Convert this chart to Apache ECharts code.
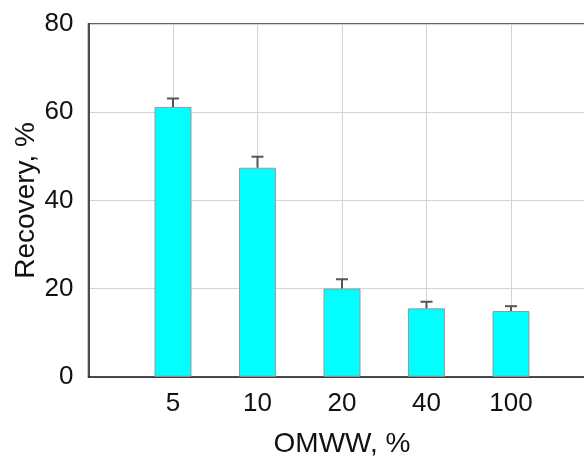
<!DOCTYPE html>
<html>
<head>
<meta charset="utf-8">
<script src="https://cdn.jsdelivr.net/npm/echarts@6/dist/echarts.min.js"></script>
<style>
  html, body { margin: 0; padding: 0; background: #fff; }
  #chart { width: 584px; height: 456px; }
</style>
</head>
<body>
<div id="chart"></div>
<script>
// OMWW dilution levels (x categories)
const categories = ['5', '10', '20', '40', '100'];
// Mean recovery (%) and upper error bound (%)
const recovery = [61.2, 47.4, 20.0, 15.5, 14.9];
const errorTop = [63.1, 49.9, 22.1, 17.0, 16.0];
// Y tick values
const yTicks = [0, 20, 40, 60, 80];

const FONT = '"Liberation Sans", Arial, sans-serif';

// categories sit at x = 1..n on a numeric axis that starts at 0
const barData = recovery.map((v, i) => [i + 1, v]);
const errData = recovery.map((v, i) => [i + 1, v, errorTop[i]]);

const chart = echarts.init(document.getElementById('chart'), null, { renderer: 'canvas' });
chart.setOption({
  animation: false,
  backgroundColor: '#ffffff',
  grid: {
    left: 88.5, top: 24, bottom: 79.3, right: -11.5,
    outerBoundsMode: 'none', containLabel: false,
    show: true, borderColor: '#333', borderWidth: 1.5, backgroundColor: 'transparent'
  },
  xAxis: {
    type: 'value', min: 0, max: categories.length + 1, interval: 1,
    axisLine: { show: true, onZero: false, lineStyle: { color: '#222', width: 1.5 } },
    axisTick: { show: false },
    splitLine: { show: true, lineStyle: { color: '#d4d4d4', width: 1 } },
    axisLabel: {
      fontSize: 26, color: '#111', fontFamily: FONT, margin: 14,
      formatter: v => (v >= 1 && v <= categories.length) ? categories[v - 1] : ''
    },
    name: 'OMWW, %', nameLocation: 'middle', nameGap: 54, nameMoveOverlap: false,
    nameTextStyle: { fontSize: 28, color: '#111', fontFamily: FONT }
  },
  yAxis: {
    type: 'value', min: yTicks[0], max: yTicks[yTicks.length - 1], interval: yTicks[1] - yTicks[0],
    axisLine: { show: true, lineStyle: { color: '#222', width: 1.5 } },
    axisTick: { show: false },
    splitLine: { show: true, lineStyle: { color: '#d4d4d4', width: 1 } },
    axisLabel: { fontSize: 26, color: '#111', fontFamily: FONT, margin: 15 },
    name: 'Recovery, %', nameLocation: 'middle', nameGap: 48, nameRotate: 90, nameMoveOverlap: false,
    nameTextStyle: { fontSize: 28, color: '#111', fontFamily: FONT }
  },
  series: [
    {
      type: 'bar',
      data: barData,
      barWidth: 37,
      itemStyle: { color: '#00ffff', borderColor: '#999', borderWidth: 1 },
      z: 3
    },
    {
      type: 'custom',
      data: errData,
      z: 4,
      renderItem: function (params, api) {
        const x = api.value(0);
        const base = api.coord([x, api.value(1)]);
        const top = api.coord([x, api.value(2)]);
        const half = 6;
        const style = { stroke: '#555', lineWidth: 2 };
        return {
          type: 'group',
          children: [
            { type: 'line', shape: { x1: base[0], y1: base[1], x2: top[0], y2: top[1] }, style },
            { type: 'line', shape: { x1: top[0] - half, y1: top[1], x2: top[0] + half, y2: top[1] }, style }
          ]
        };
      }
    }
  ]
});
</script>
</body>
</html>
